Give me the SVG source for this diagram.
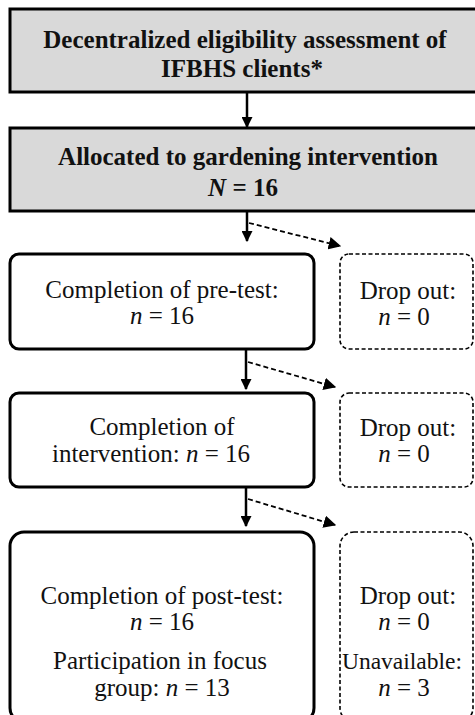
<svg xmlns="http://www.w3.org/2000/svg" width="475" height="715" viewBox="0 0 475 715">
<defs>
<marker id="ah" viewBox="0 0 10 10" refX="9" refY="5" markerWidth="4.4" markerHeight="4.4" orient="auto" markerUnits="strokeWidth">
<path d="M0,0 L10,5 L0,10 z" fill="#000"/>
</marker>
<marker id="ahd" viewBox="0 0 10 10" refX="9" refY="5" markerWidth="7" markerHeight="7" orient="auto" markerUnits="strokeWidth">
<path d="M0,0 L10,5 L0,10 z" fill="#000"/>
</marker>
</defs>
<style>
.hdr{fill:#d9d9d9;stroke:#000;stroke-width:3}
.box{fill:#fff;stroke:#000;stroke-width:3}
.drop{fill:#fff;stroke:#000;stroke-width:1.6;stroke-dasharray:4 2.5}
text{font-family:"Liberation Serif","Times New Roman",serif;fill:#111;text-anchor:middle}
.b{font-weight:bold;font-size:25px}
.t{font-size:25px}
.arr{stroke:#000;stroke-width:2.5;fill:none;marker-end:url(#ah)}
.darr{stroke:#000;stroke-width:1.8;stroke-dasharray:5 3;fill:none;marker-end:url(#ahd)}
</style>
<rect width="475" height="715" fill="#fff"/>
<g id="n1">
<rect class="hdr" x="10" y="9" width="470" height="83"/>
<text class="b" x="245" y="48">Decentralized eligibility  assessment of</text>
<text class="b" x="242" y="77">IFBHS clients*</text>
</g>
<g id="n2">
<rect class="hdr" x="10" y="128" width="470" height="83"/>
<text class="b" x="248" y="165">Allocated to gardening intervention</text>
<text class="b" x="243" y="196"><tspan font-style="italic">N</tspan> = 16</text>
</g>
<g id="n3">
<rect class="box" x="10" y="254" width="304" height="95" rx="9"/>
<text class="t" x="162" y="298">Completion of pre-test:</text>
<text class="t" x="162" y="324"><tspan font-style="italic">n</tspan> = 16</text>
</g>
<g id="d1">
<rect class="drop" x="340" y="254" width="133" height="95" rx="9"/>
<text class="t" x="408" y="299">Drop out:</text>
<text class="t" x="404" y="325"><tspan font-style="italic">n</tspan> = 0</text>
</g>
<g id="n4">
<rect class="box" x="10" y="393" width="304" height="94" rx="9"/>
<text class="t" x="162" y="435">Completion of</text>
<text class="t" x="151" y="462">intervention: <tspan font-style="italic">n</tspan> = 16</text>
</g>
<g id="d2">
<rect class="drop" x="340" y="393" width="133" height="94" rx="9"/>
<text class="t" x="408" y="436">Drop out:</text>
<text class="t" x="404" y="462"><tspan font-style="italic">n</tspan> = 0</text>
</g>
<g id="n5">
<rect class="box" x="10" y="532" width="304" height="190" rx="14"/>
<text class="t" x="162" y="604">Completion of post-test:</text>
<text class="t" x="162" y="630"><tspan font-style="italic">n</tspan> = 16</text>
<text class="t" x="160" y="669">Participation in focus</text>
<text class="t" x="162" y="696">group: <tspan font-style="italic">n</tspan> = 13</text>
</g>
<g id="d3">
<rect class="drop" x="340" y="532" width="133" height="190" rx="14"/>
<text class="t" x="408" y="604">Drop out:</text>
<text class="t" x="404" y="630"><tspan font-style="italic">n</tspan> = 0</text>
<text class="t" x="402" y="669" style="font-size:23.5px">Unavailable:</text>
<text class="t" x="404" y="696"><tspan font-style="italic">n</tspan> = 3</text>
</g>
<g id="connectors">
<line class="arr" x1="247" y1="92" x2="247" y2="127"/>
<line class="arr" x1="247" y1="211" x2="247" y2="241"/>
<line class="darr" x1="249" y1="223" x2="340" y2="246"/>
<line class="arr" x1="246" y1="349" x2="246" y2="389"/>
<line class="darr" x1="248" y1="362" x2="335" y2="387"/>
<line class="arr" x1="246" y1="487" x2="246" y2="526"/>
<line class="darr" x1="248" y1="499" x2="335" y2="525"/>
</g>
</svg>
